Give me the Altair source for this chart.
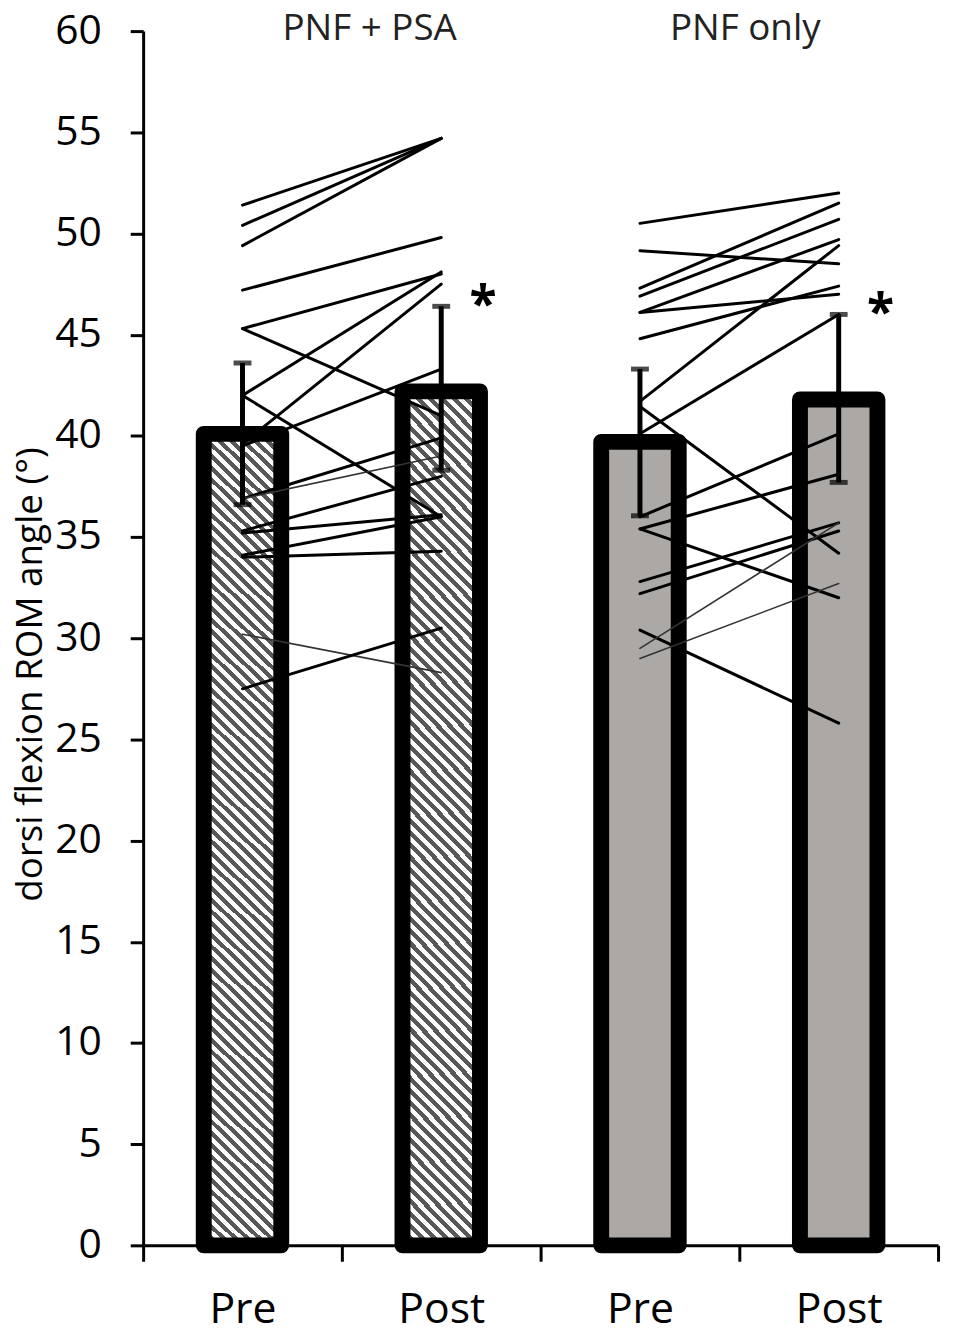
import altair as alt
import pandas as pd

# ---------------- data ----------------
conds = ["Pre1", "Post1", "Pre2", "Post2"]
groups = ["PNF + PSA", "PNF only"]

# individual subjects (dorsi flexion ROM angle, degrees)
g1_pre = [51.4, 50.4, 49.4, 47.2, 45.3, 45.3, 42.0, 42.0, 39.6, 39.5, 36.9, 36.9, 35.3, 35.2, 34.1, 34.0, 30.2, 27.5]
g1_post = [54.7, 54.7, 54.7, 49.8, 48.0, 41.0, 48.1, 36.0, 47.5, 43.3, 39.9, 39.0, 38.0, 36.1, 36.0, 34.3, 28.3, 30.5]
g2_pre = [50.5, 49.15, 47.3, 46.9, 46.1, 46.1, 44.8, 41.7, 41.45, 40.1, 36.0, 35.4, 35.4, 32.8, 32.2, 30.4, 29.5, 29.0]
g2_post = [52.0, 48.5, 51.5, 50.7, 49.7, 47.0, 47.4, 49.4, 34.2, 46.0, 40.1, 38.1, 32.0, 35.7, 35.3, 25.8, 35.7, 32.7]

# group means and error bars (Pre1, Post1, Pre2, Post2)
bar_means = [40.1, 42.2, 39.7, 41.8]
err_low = [36.6, 38.3, 36.05, 37.7]
err_high = [43.6, 46.4, 43.3, 46.0]
significant = [False, True, False, True]

# ---------------- style constants ----------------
THIN = {("g1", 11), ("g1", 16), ("g2", 16), ("g2", 17)}
FONT = "Open Sans"
PLOT_W, PLOT_H = 800, 1222
BAR_W = 78
HATCH_DARK = "#585858"
GRAY_FILL = "#aca8a6"

# ---------------- tables ----------------
rows = []
for gid, pre, post, c_pre, c_post in [("g1", g1_pre, g1_post, "Pre1", "Post1"),
                                      ("g2", g2_pre, g2_post, "Pre2", "Post2")]:
    for i, (a, b) in enumerate(zip(pre, post)):
        thin = (gid, i) in THIN
        rows.append({"subject": f"{gid}_{i}", "cond": c_pre, "value": a, "thin": thin})
        rows.append({"subject": f"{gid}_{i}", "cond": c_post, "value": b, "thin": thin})
lines_df = pd.DataFrame(rows)

bars_df = pd.DataFrame({
    "cond": conds,
    "group": [groups[0], groups[0], groups[1], groups[1]],
    "mean": bar_means,
    "lo": err_low,
    "hi": err_high,
    "sig": significant,
})

# group titles: offset from the start of the Post band
titles_df = pd.DataFrame({"cond": ["Post1", "Post2"], "label": groups, "y": [60, 60], "off": [28, 6]})

# ---------------- hatch gradient (45 degree stripes) ----------------
px_per_unit = PLOT_H / 60.0
h = (bar_means[0] + bar_means[1]) / 2 * px_per_unit
w = BAR_W
k = (w + h) / (w * w + h * h)
period = 12.0
n = int(round((w + h) / period))
stops = []
for i in range(n):
    a = i / n
    m = (i + 0.5) / n
    b = (i + 1) / n
    stops += [alt.GradientStop(offset=a, color=HATCH_DARK),
              alt.GradientStop(offset=m, color=HATCH_DARK),
              alt.GradientStop(offset=m, color="white"),
              alt.GradientStop(offset=b, color="white")]
hatch = alt.LinearGradient(gradient="linear", x1=0, y1=1, x2=k * w, y2=1 - k * h, stops=stops)

# ---------------- encodings ----------------
x_enc = alt.X(
    "cond:N",
    sort=conds,
    scale=alt.Scale(domain=conds, paddingInner=0, paddingOuter=0),
    axis=alt.Axis(
        title=None,
        labelExpr="replace(datum.label, /[12]$/, '')",
        labelAngle=0,
        labelFontSize=43,
        labelFont=FONT,
        labelColor="black",
        labelPadding=28,
        tickBand="extent",
        tickSize=16,
        tickWidth=3,
        tickColor="black",
        domainWidth=3,
        domainColor="black",
        grid=False,
    ),
)
y_scale = alt.Scale(domain=[0, 60], nice=False, zero=True)
y_axis = alt.Axis(
    title="dorsi flexion ROM angle (°)",
    titleFont=FONT,
    titleFontSize=37,
    titleFontWeight="normal",
    titleColor="black",
    titleX=-102,
    titleY=647,
    titleBaseline="alphabetic",
    values=list(range(0, 61, 5)),
    labelFontSize=41,
    labelFont=FONT,
    labelColor="black",
    labelPadding=29,
    tickSize=13,
    tickWidth=3,
    tickColor="black",
    domainWidth=3,
    domainColor="black",
    grid=False,
)

base = alt.Chart(bars_df)

bars_hatched = base.transform_filter(alt.datum.group == groups[0]).mark_bar(
    size=BAR_W, fill=hatch, stroke="black", strokeWidth=16, strokeJoin="round"
).encode(x=x_enc, y=alt.Y("mean:Q", scale=y_scale, axis=y_axis))

bars_gray = base.transform_filter(alt.datum.group == groups[1]).mark_bar(
    size=BAR_W, fill=GRAY_FILL, stroke="black", strokeWidth=16, strokeJoin="round"
).encode(x=x_enc, y=alt.Y("mean:Q", scale=y_scale, axis=y_axis))

lines = alt.Chart(lines_df).mark_line(strokeCap="round").encode(
    x=x_enc,
    y=alt.Y("value:Q", scale=y_scale, axis=y_axis),
    detail="subject:N",
    strokeWidth=alt.condition("datum.thin", alt.value(1.6), alt.value(3.0)),
    color=alt.condition("datum.thin", alt.value("#333333"), alt.value("black")),
)

err_rule = base.mark_rule(color="black", strokeWidth=5).encode(
    x=x_enc, y=alt.Y("lo:Q", scale=y_scale, axis=y_axis), y2="hi:Q"
)
cap_hi = base.mark_tick(orient="horizontal", size=18, thickness=5, color="black").encode(
    x=x_enc, y=alt.Y("hi:Q", scale=y_scale, axis=y_axis)
)
cap_lo = base.mark_tick(orient="horizontal", size=18, thickness=5, color="black").encode(
    x=x_enc, y=alt.Y("lo:Q", scale=y_scale, axis=y_axis)
)

stars = base.transform_filter(alt.datum.sig).mark_text(
    text="*", font=FONT, fontSize=50, fontWeight="bold", dx=42, dy=15, baseline="alphabetic", color="black"
).encode(x=x_enc, y=alt.Y("hi:Q", scale=y_scale, axis=y_axis))

titles = alt.Chart(titles_df).mark_text(
    font=FONT, fontSize=37, baseline="middle", align="center", color="#222222", dy=-2
).encode(
    x=x_enc,
    y=alt.Y("y:Q", scale=y_scale, axis=y_axis),
    text="label:N",
    xOffset=alt.XOffset("off:Q", scale=None),
)

chart = alt.layer(bars_hatched, bars_gray, lines, err_rule, cap_hi, cap_lo, stars, titles).properties(
    width=PLOT_W,
    height=PLOT_H,
    autosize=alt.AutoSizeParams(type="none"),
    padding={"left": 136, "top": 19, "right": 8, "bottom": 90},
).configure_view(stroke=None)

chart.save("out.html", embed_options={"renderer": "svg", "actions": False})
